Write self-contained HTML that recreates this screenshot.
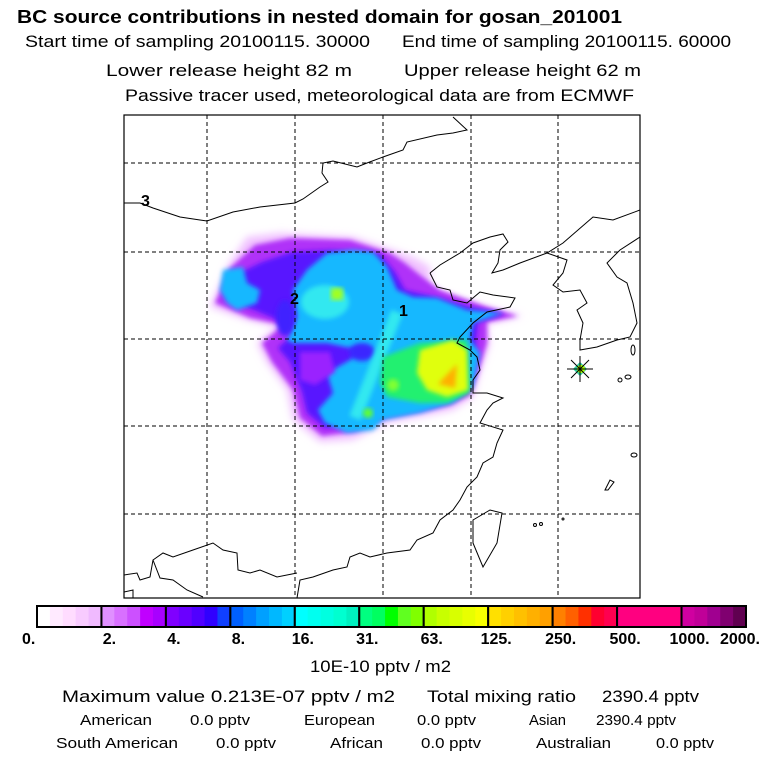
<!DOCTYPE html>
<html><head><meta charset="utf-8"><style>
body{margin:0;background:#fff;width:768px;height:768px;overflow:hidden;font-family:"Liberation Sans",sans-serif;}
svg{position:absolute;left:0;top:0}
</style></head><body>
<svg id="s" width="768" height="768" viewBox="0 0 768 768">
<defs><filter id="bl" x="-20%" y="-20%" width="140%" height="140%"><feGaussianBlur stdDeviation="2.5"/></filter>
<filter id="bl2" x="-20%" y="-20%" width="140%" height="140%"><feGaussianBlur stdDeviation="4"/></filter>
<clipPath id="mapclip"><rect x="124" y="115" width="516" height="483"/></clipPath></defs>
<g font-family="Liberation Sans, sans-serif" fill="#000" font-size="17">
<text x="17" y="23" font-weight="bold" font-size="18" textLength="605" lengthAdjust="spacingAndGlyphs">BC  source contributions in nested domain for gosan_201001</text>
<text x="25" y="47" textLength="345" lengthAdjust="spacingAndGlyphs">Start time of sampling 20100115. 30000</text>
<text x="402" y="47" textLength="329" lengthAdjust="spacingAndGlyphs">End time of sampling 20100115. 60000</text>
<text x="106" y="76" textLength="246" lengthAdjust="spacingAndGlyphs">Lower release height   82 m</text>
<text x="404" y="76" textLength="237" lengthAdjust="spacingAndGlyphs">Upper release height   62 m</text>
<text x="125" y="101" textLength="509" lengthAdjust="spacingAndGlyphs">Passive tracer used, meteorological data are from ECMWF</text>
</g>
<g clip-path="url(#mapclip)">
<g>
<polygon filter="url(#bl2)" fill="#f0c0ff" points="210,307 227,267 247,237 280,233 353,237 393,250 413,257 430,267 430,290 487,307 523,316 487,324 490,343 480,373 473,397 453,410 420,417 387,423 353,440 320,442 293,420 287,390 267,363 257,343 277,327 247,320"/>
<polygon filter="url(#bl)" fill="#b030f8" points="215,303 230,268 255,245 290,238 350,240 390,253 405,263 420,275 440,290 487,307 518,316 487,322 487,343 478,373 470,395 450,405 420,412 387,418 355,432 322,436 300,418 293,390 272,362 262,343 283,325 250,318"/>
<polygon filter="url(#bl)" fill="#5818ff" points="225,298 235,275 262,262 292,252 330,250 380,254 395,272 405,290 435,297 470,307 505,314 478,322 476,340 476,360 468,390 450,400 420,408 385,414 355,425 325,428 307,413 302,392 290,362 278,348 292,335 278,320"/>
<polygon filter="url(#bl)" fill="#18b8ff" points="293,290 307,270 327,253 353,250 373,252 387,267 397,290 413,297 437,298 467,310 503,313 473,323 470,340 480,353 473,387 453,403 420,413 383,420 373,430 347,433 325,423 318,410 333,393 327,373 350,360 360,350 327,343 293,343 287,340 297,317"/>
<polygon filter="url(#bl)" fill="#18b8ff" points="223,270 243,267 247,283 260,290 257,303 237,310 227,303 220,290"/>
<polygon filter="url(#bl)" fill="#9a20ff" points="300,352 330,352 335,372 315,385 300,380"/>
<ellipse filter="url(#bl)" cx="362" cy="352" rx="13" ry="9" fill="#3a28ff"/>
<ellipse filter="url(#bl)" cx="285" cy="318" rx="9" ry="18" fill="#4020ff"/>
<ellipse filter="url(#bl)" cx="325" cy="302" rx="24" ry="17" fill="#30e8f0"/>
<line filter="url(#bl)" x1="397" y1="312" x2="355" y2="418" stroke="#30e8f0" stroke-width="12"/>
<polygon filter="url(#bl)" fill="#20f070" points="383,357 420,343 467,340 470,393 447,403 420,403 387,397 380,383"/>
<polygon filter="url(#bl)" fill="#e0ff10" points="420,350 453,340 467,350 468,390 447,397 427,390 417,373"/>
<polygon filter="url(#bl)" fill="#ffb000" points="457,364 455,388 438,384"/>
<rect x="331" y="288" width="12" height="12" fill="#a0ff20" filter="url(#bl)"/>
<circle cx="368" cy="413" r="5" fill="#60ff30" filter="url(#bl)"/>
<circle cx="393" cy="385" r="6" fill="#80ff30" filter="url(#bl)"/>
</g>
<g fill="none" stroke="#000" stroke-width="1">
<polyline points="124,203 140,203 153,208 180,217 200,220 207,221 233,212 260,207 295,203 303,199 320,187 328,182 322,173 323,163 333,161 357,167 367,163 383,157 403,150 407,142 437,135 453,133 467,130 453,117"/>
<polyline points="430,273 440,265 460,253 473,243 490,237 503,234 508,242 500,250 498,263 492,273 503,270 520,263 547,253 563,243 593,217 613,220 640,210"/>
<polyline points="547,253 567,260 563,273 553,285 563,292 580,290 587,303 577,310 583,323 580,340 580,350 597,347 617,340 630,337 637,323 633,303 627,283 617,277 607,263 620,250 640,237"/>
<polyline points="430,273 437,287 450,290 453,300 467,303 480,292 493,295 515,298 510,307 487,312 473,323 460,337 457,343 470,350 477,357 480,370 473,380 473,393 487,393 503,398 493,403 487,410 480,423 503,430 497,443 493,457 483,463 477,477 467,487 460,500 453,510 440,520 433,533 417,540 410,550 387,553 370,557 360,553 350,557 347,567 333,570 313,577 300,580 297,598"/>
<polygon points="473,520 490,510 502,513 497,543 483,567 473,543"/>
<polyline points="124,575 137,573 140,580 150,577 153,560 163,553 173,557 193,550 213,543 223,550 237,553 238,570 250,573 260,570 277,577 297,573"/>
<polyline points="153,560 160,578 173,580 187,590 203,597"/>
<polyline points="124,592 133,590 133,598"/>
<ellipse cx="633" cy="350" rx="2" ry="5"/><ellipse cx="628" cy="377" rx="3" ry="2"/><ellipse cx="620" cy="380" rx="2" ry="2"/>
<ellipse cx="634" cy="455" rx="3" ry="2"/><path d="M605,490 L610,480 L614,482 L608,490 Z"/>
<circle cx="535" cy="525" r="1.5"/><circle cx="541" cy="524" r="1.5"/><circle cx="563" cy="519" r="1"/>
</g>
<g stroke="#000" stroke-width="1" stroke-dasharray="4,3" id="grid"></g>
<g>
<rect x="575" y="364" width="10" height="10" transform="rotate(45 580 369)" fill="#30d0a0"/>
<circle cx="581" cy="369" r="4" fill="#b0ff00"/>
<g stroke="#000" stroke-width="1"><line x1="567" y1="369" x2="593" y2="369"/><line x1="580" y1="356" x2="580" y2="382"/><line x1="571" y1="360" x2="589" y2="378"/><line x1="589" y1="360" x2="571" y2="378"/></g>
</g>
<g font-size="16" font-weight="bold">
<text x="141" y="206">3</text>
<text x="290" y="304">2</text>
<text x="399" y="316">1</text>
</g>
</g>
<rect x="124" y="115" width="516" height="483" fill="none" stroke="#000" stroke-width="1.2"/>
<g id="cbar"></g>
<g font-family="Liberation Sans, sans-serif" font-size="15">
<text x="310" y="672" font-size="17" textLength="141" lengthAdjust="spacingAndGlyphs">10E-10 pptv / m2</text>
<text x="62" y="702" font-size="17" textLength="333" lengthAdjust="spacingAndGlyphs">Maximum value  0.213E-07 pptv / m2</text>
<text x="427" y="702" font-size="17" textLength="149" lengthAdjust="spacingAndGlyphs">Total mixing ratio</text>
<text x="602" y="702" font-size="17" textLength="97" lengthAdjust="spacingAndGlyphs">2390.4 pptv</text>
<text x="80" y="725" textLength="72" lengthAdjust="spacingAndGlyphs">American</text>
<text x="190" y="725" textLength="60" lengthAdjust="spacingAndGlyphs">0.0 pptv</text>
<text x="304" y="725" textLength="71" lengthAdjust="spacingAndGlyphs">European</text>
<text x="417" y="725" textLength="59" lengthAdjust="spacingAndGlyphs">0.0 pptv</text>
<text x="529" y="725" textLength="37" lengthAdjust="spacingAndGlyphs">Asian</text>
<text x="596" y="725" textLength="80" lengthAdjust="spacingAndGlyphs">2390.4 pptv</text>
<text x="56" y="748" textLength="122" lengthAdjust="spacingAndGlyphs">South American</text>
<text x="216" y="748" textLength="60" lengthAdjust="spacingAndGlyphs">0.0 pptv</text>
<text x="330" y="748" textLength="53" lengthAdjust="spacingAndGlyphs">African</text>
<text x="421" y="748" textLength="60" lengthAdjust="spacingAndGlyphs">0.0 pptv</text>
<text x="536" y="748" textLength="75" lengthAdjust="spacingAndGlyphs">Australian</text>
<text x="656" y="748" textLength="58" lengthAdjust="spacingAndGlyphs">0.0 pptv</text>
</g>
</svg>
<script>
const gridX = [207, 295, 383, 471, 558];
const gridY = [163, 252, 339, 426, 514];
const levelLabels = ["0.","2.","4.","8.","16.","31.","63.","125.","250.","500.","1000.","2000."];
const segColors = [
["#ffffff","#ffeaff","#ffdcff","#f8cbff","#f0baff"],
["#e090ff","#d870ff","#cc50ff","#c000ff","#a800ff"],
["#8000ff","#6a00ff","#5000ff","#3000ff","#1040ff"],
["#0060ff","#0080ff","#00a0ff","#00b8ff","#00d0ff"],
["#00ffff","#00fff0","#00ffe0","#00ffd0","#00f0c0"],
["#00ff80","#00ff60","#00ff00","#60ff20","#80ff00"],
["#b0ff00","#c8ff00","#d8ff00","#e8ff00","#f8ff00"],
["#ffe000","#ffd000","#ffc000","#ffb000","#ffa000"],
["#ff8000","#ff6000","#ff3000","#ff0030","#ff0050"],
["#ff0080","#ff0080","#ff0080","#ff0080","#ff0080"],
["#d000a0","#c00098","#a00090","#800070","#600050"]];
const NS="http://www.w3.org/2000/svg";
const g=document.getElementById('grid');
gridX.forEach(x=>{const l=document.createElementNS(NS,'line');
l.setAttribute('x1',x);l.setAttribute('x2',x);l.setAttribute('y1',115);l.setAttribute('y2',598);


g.appendChild(l);});
gridY.forEach(y=>{const l=document.createElementNS(NS,'line');
l.setAttribute('y1',y);l.setAttribute('y2',y);l.setAttribute('x1',124);l.setAttribute('x2',640);


g.appendChild(l);});
const cb=document.getElementById('cbar');
const x0=37,x1=746,y0=606,h=21;
const sw=(x1-x0)/segColors.length;
segColors.forEach((cols,i)=>{
 cols.forEach((c,j)=>{const r=document.createElementNS(NS,'rect');
  r.setAttribute('x',x0+i*sw+j*sw/cols.length);r.setAttribute('y',y0);
  r.setAttribute('width',sw/cols.length+0.5);r.setAttribute('height',h);r.setAttribute('fill',c);
  
  
  cb.appendChild(r);});
 const b=document.createElementNS(NS,'rect');
 b.setAttribute('x',x0+i*sw);b.setAttribute('y',y0);b.setAttribute('width',sw);b.setAttribute('height',h);
 b.setAttribute('fill','none');b.setAttribute('stroke','#000');b.setAttribute('stroke-width','2');
 
 
 cb.appendChild(b);
});
levelLabels.forEach((t,i)=>{const tx=document.createElementNS(NS,'text');
 const last=levelLabels.length-1;
 if(i===0){tx.setAttribute('x',22);tx.setAttribute('text-anchor','start');}
 else if(i===last){tx.setAttribute('x',760);tx.setAttribute('text-anchor','end');}
 else{tx.setAttribute('x',x0+i*sw+8);tx.setAttribute('text-anchor','middle');}
 tx.setAttribute('y',644);
 tx.setAttribute('font-size','16');tx.setAttribute('font-weight','bold');
 tx.setAttribute('font-family','Liberation Sans, sans-serif');
 tx.textContent=t;
 
 
 cb.appendChild(tx);});
</script>
</body></html>
